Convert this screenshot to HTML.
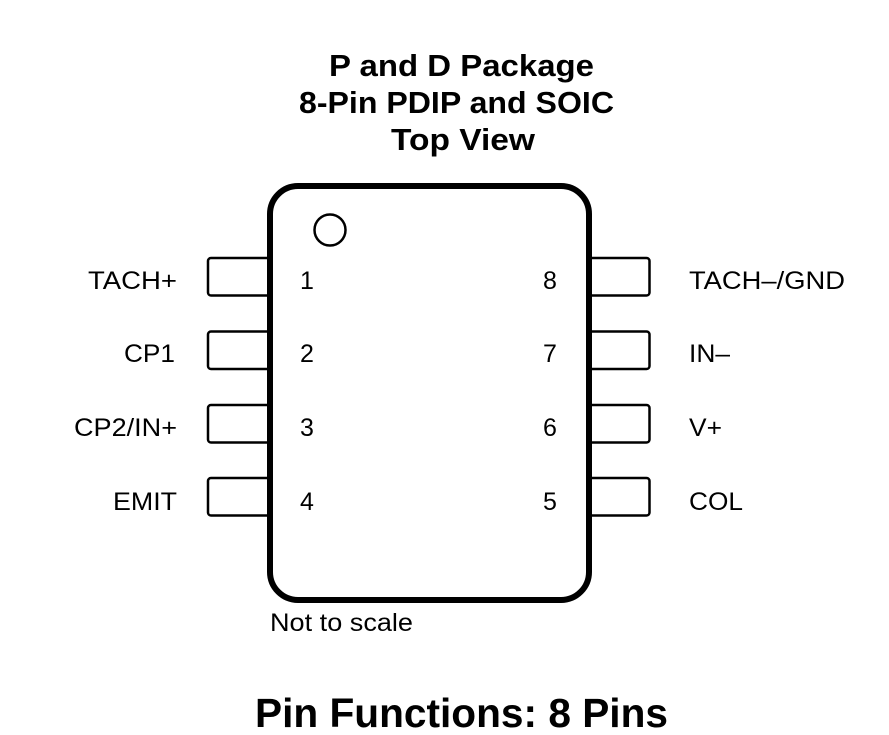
<!DOCTYPE html>
<html>
<head>
<meta charset="utf-8">
<style>
  html, body { margin: 0; padding: 0; background: #ffffff; }
  body { width: 889px; height: 735px; overflow: hidden; }
  svg { display: block; }
  text { font-family: "Liberation Sans", Arial, sans-serif; fill: #000; }
  .b { font-weight: bold; }
</style>
</head>
<body>
<svg width="889" height="735" viewBox="0 0 889 735" xmlns="http://www.w3.org/2000/svg">
  <rect x="0" y="0" width="889" height="735" fill="#ffffff"/>

  <!-- Title -->
  <text class="b" x="329" y="76" font-size="31" textLength="265" lengthAdjust="spacingAndGlyphs">P and D Package</text>
  <text class="b" x="299" y="113" font-size="31" textLength="315" lengthAdjust="spacingAndGlyphs">8-Pin PDIP and SOIC</text>
  <text class="b" x="391" y="150" font-size="31" textLength="144" lengthAdjust="spacingAndGlyphs">Top View</text>

  <!-- Left pins -->
  <g fill="#fff" stroke="#000" stroke-width="2.5">
    <rect x="208" y="258" width="70" height="37.5" rx="3"/>
    <rect x="208" y="331.5" width="70" height="37.5" rx="3"/>
    <rect x="208" y="405" width="70" height="37.5" rx="3"/>
    <rect x="208" y="478" width="70" height="37.5" rx="3"/>
    <!-- Right pins -->
    <rect x="580" y="258" width="69.5" height="37.5" rx="3"/>
    <rect x="580" y="331.5" width="69.5" height="37.5" rx="3"/>
    <rect x="580" y="405" width="69.5" height="37.5" rx="3"/>
    <rect x="580" y="478" width="69.5" height="37.5" rx="3"/>
  </g>

  <!-- Body -->
  <rect x="270" y="186" width="319" height="414" rx="28" ry="28" fill="#fff" stroke="#000" stroke-width="6"/>
  <circle cx="330" cy="230" r="15.5" fill="none" stroke="#000" stroke-width="2.5"/>

  <!-- Pin numbers -->
  <g font-size="25" text-anchor="middle">
    <text x="307" y="289">1</text>
    <text x="307" y="362">2</text>
    <text x="307" y="436">3</text>
    <text x="307" y="510">4</text>
    <text x="550" y="289">8</text>
    <text x="550" y="362">7</text>
    <text x="550" y="436">6</text>
    <text x="550" y="510">5</text>
  </g>

  <!-- Left labels -->
  <g font-size="25">
    <text x="88" y="289" textLength="89" lengthAdjust="spacingAndGlyphs">TACH+</text>
    <text x="124" y="362" textLength="51" lengthAdjust="spacingAndGlyphs">CP1</text>
    <text x="74" y="436" textLength="103" lengthAdjust="spacingAndGlyphs">CP2/IN+</text>
    <text x="113" y="510" textLength="64" lengthAdjust="spacingAndGlyphs">EMIT</text>
  </g>

  <!-- Right labels -->
  <g font-size="25">
    <text x="689" y="289" textLength="156" lengthAdjust="spacingAndGlyphs">TACH–/GND</text>
    <text x="689" y="362" textLength="41" lengthAdjust="spacingAndGlyphs">IN–</text>
    <text x="689" y="436" textLength="33" lengthAdjust="spacingAndGlyphs">V+</text>
    <text x="689" y="510" textLength="54" lengthAdjust="spacingAndGlyphs">COL</text>
  </g>

  <!-- Not to scale -->
  <text x="270" y="631" font-size="25" textLength="143" lengthAdjust="spacingAndGlyphs">Not to scale</text>

  <!-- Bottom heading -->
  <text class="b" x="255" y="727" font-size="41" textLength="413" lengthAdjust="spacingAndGlyphs">Pin Functions: 8 Pins</text>
</svg>
</body>
</html>
